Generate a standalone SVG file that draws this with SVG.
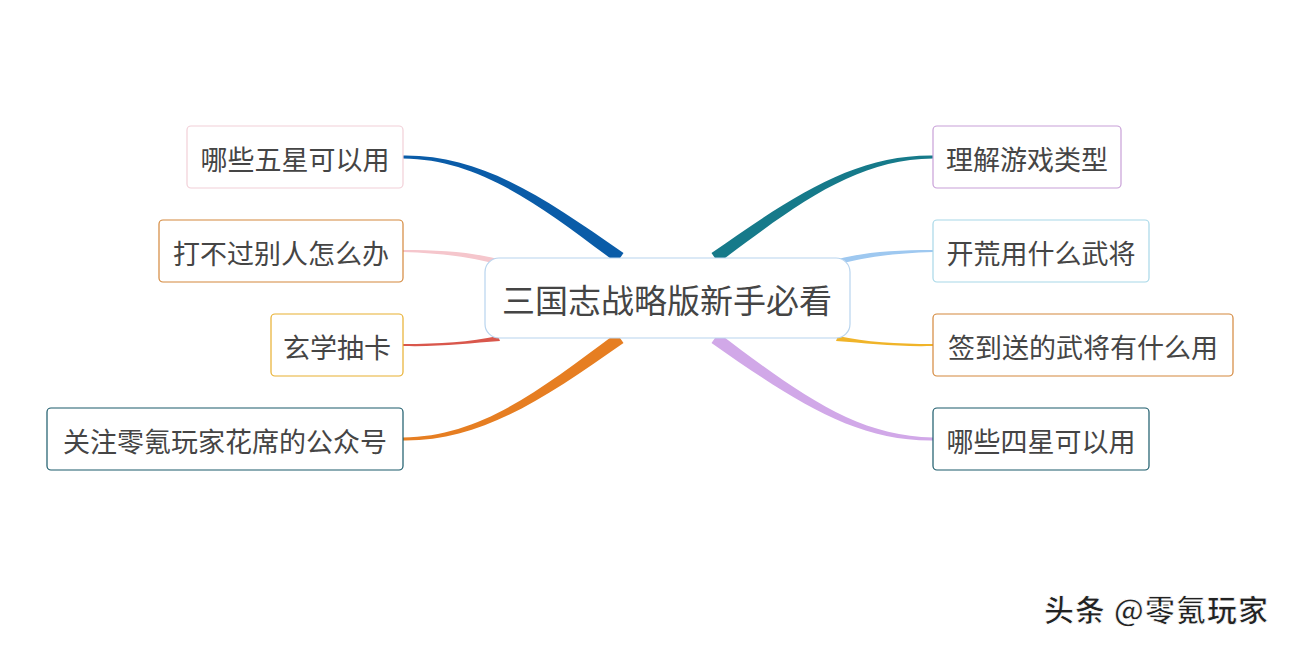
<svg xmlns="http://www.w3.org/2000/svg" width="1303" height="647" viewBox="0 0 1303 647">
<style>
.n rect{fill:#fff;stroke-width:1.2}
.n text{font-family:"Noto Sans CJK SC","Liberation Sans",sans-serif;font-size:27px;fill:#454545;dominant-baseline:central}
.c text{font-size:33px}
.wm{font-family:"Noto Sans CJK SC",sans-serif;font-size:30px;font-weight:bold;fill:#222;stroke:#fff;stroke-width:0.8;letter-spacing:1px}
</style>
<rect width="1303" height="647" fill="#fff"/>
<g id="connectors">
<path d="M623.5,253.1 C542.6,196.4 480.75,154.6 403,155.5 L403,158.5 C479.25,159.4 537.4,203.6 616.5,262.9 Z" fill="#0a5ca8"/>
<path d="M498,259 C470,252 440,250 403,250 L403,252 C440,253 470,257 496,264 Z" fill="#f5c6cc"/>
<path d="M498,336 C470,342 440,344 403,344 L403,346 C440,347 470,343 500,341 Z" fill="#d9574c"/>
<path d="M623.5,342.9 C542.6,399.6 480.75,441.4 403,440.5 L403,437.5 C479.25,436.6 537.4,392.4 616.5,333.1 Z" fill="#e67e22"/>
<path d="M711.5,253.1 C792.4,196.4 854.25,154.6 933,155.5 L933,158.5 C855.75,159.4 797.6,203.6 718.5,262.9 Z" fill="#167a8a"/>
<path d="M838,259 C866,252 896,250 933,250 L933,252 C896,253 866,257 840,264 Z" fill="#9ec8f0"/>
<path d="M838,336 C866,342 896,344 933,344 L933,346 C896,347 866,343 836,341 Z" fill="#f0b429"/>
<path d="M711.5,342.9 C792.4,399.6 854.25,441.4 933,440.5 L933,437.5 C855.75,436.6 797.6,392.4 718.5,333.1 Z" fill="#d1a8e8"/>
</g>
<g id="center" class="n c"><rect x="485" y="258" width="365" height="80" rx="14" stroke="#b8d4ee"/><text x="667" y="299" text-anchor="middle">三国志战略版新手必看</text></g>
<g id="n1" class="n"><rect x="187" y="126" width="216" height="62" rx="4" stroke="#f2d0d8"/><text x="295" y="158" text-anchor="middle">哪些五星可以用</text></g>
<g id="n2" class="n"><rect x="159" y="220" width="244" height="62" rx="4" stroke="#d4883c"/><text x="281" y="252" text-anchor="middle">打不过别人怎么办</text></g>
<g id="n3" class="n"><rect x="271" y="314" width="132" height="62" rx="4" stroke="#e8b030"/><text x="337" y="346" text-anchor="middle">玄学抽卡</text></g>
<g id="n4" class="n"><rect x="47" y="408" width="356" height="62" rx="4" stroke="#1a5a6a"/><text x="225" y="440" text-anchor="middle">关注零氪玩家花席的公众号</text></g>
<g id="n5" class="n"><rect x="933" y="126" width="188" height="62" rx="4" stroke="#c8a0d8"/><text x="1027" y="158" text-anchor="middle">理解游戏类型</text></g>
<g id="n6" class="n"><rect x="933" y="220" width="216" height="62" rx="4" stroke="#a8d8e8"/><text x="1041" y="252" text-anchor="middle">开荒用什么武将</text></g>
<g id="n7" class="n"><rect x="933" y="314" width="300" height="62" rx="4" stroke="#d4883c"/><text x="1083" y="346" text-anchor="middle">签到送的武将有什么用</text></g>
<g id="n8" class="n"><rect x="933" y="408" width="216" height="62" rx="4" stroke="#1a5a6a"/><text x="1041" y="440" text-anchor="middle">哪些四星可以用</text></g>
<text class="wm" x="1044" y="621">头条 @零氪玩家</text>
</svg>
